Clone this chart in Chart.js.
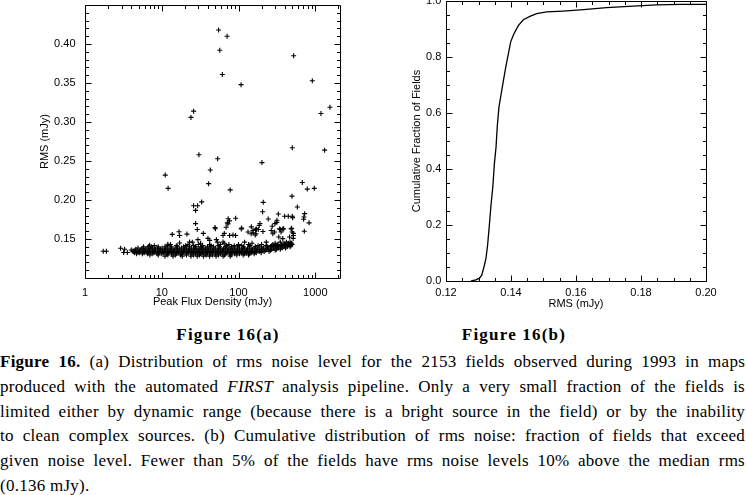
<!DOCTYPE html>
<html>
<head>
<meta charset="utf-8">
<script src="https://cdn.jsdelivr.net/npm/chart.js@4.4.1/dist/chart.umd.min.js"></script>
<style>
  html, body { margin: 0; padding: 0; background: #fff; }
  body { width: 746px; height: 495px; position: relative; overflow: hidden; }
  canvas { position: absolute; top: 0; }
  #left { left: 0; }
  #right { left: 350px; }
  .fig { position: absolute; width: 200px; text-align: center; font: bold 17px "Liberation Serif", serif; line-height: 20px; top: 325px; letter-spacing: 1.2px; }
  #caption { position: absolute; left: 0; top: 350px; width: 745px; font: 17px "Liberation Serif", serif; line-height: 24.8px; letter-spacing: 0.25px; }
  #caption div { text-align: justify; text-align-last: justify; white-space: nowrap; }
  #caption div.last { text-align-last: left; }
</style>
</head>
<body>
<canvas id="left" width="350" height="312"></canvas>
<canvas id="right" width="396" height="312"></canvas>
<div class="fig" style="left:128px">Figure 16(a)</div>
<div class="fig" style="left:414px">Figure 16(b)</div>
<div id="caption">
  <div><b>Figure 16.</b> (a) Distribution of rms noise level for the 2153 fields observed during 1993 in maps</div>
  <div>produced with the automated <i>FIRST</i> analysis pipeline. Only a very small fraction of the fields is</div>
  <div>limited either by dynamic range (because there is a bright source in the field) or by the inability</div>
  <div>to clean complex sources. (b) Cumulative distribution of rms noise: fraction of fields that exceed</div>
  <div>given noise level. Fewer than 5% of the fields have rms noise levels 10% above the median rms</div>
  <div class="last">(0.136 mJy).</div>
</div>
<script>
// Figure 16(a): isolated fields (peak flux in mJy, rms in mJy)
const outFlux = [55, 71, 57, 61.5, 108, 523, 915, 26, 24, 1186, 1553, 30.5, 53.5, 502, 1324,
  11.1, 12.1, 42.9, 40.8, 78, 202, 678, 787, 971, 497, 584, 210, 206, 26, 29.3, 33.1, 27.6, 27.6, 29,
  73.3, 91.8, 76.2, 71.5, 110, 49.4, 49.9, 181, 190, 186, 244, 317, 330, 399, 445, 502, 507,
  727, 712, 705, 830, 720, 208, 171, 275, 299, 351, 388, 493,
  13.7, 16.8, 17.1, 21.3, 518, 515, 84.7, 65.3, 147, 155, 165, 34.8, 40,
  6.75, 2.91, 3.28, 3.19, 3.56, 1.73, 1.90,
  72.8, 69, 108.6, 167, 169, 315, 267, 280, 295, 342, 359, 377, 485, 500, 520, 335, 377, 462,
  62.8, 76.5, 91.6, 133, 146, 154, 170,
  6.95, 12, 17.1, 23, 29.6, 42.1, 51.5, 62.8, 4.0, 4.2];
const outRms = [0.418, 0.410, 0.392, 0.361, 0.348, 0.385, 0.353, 0.314, 0.306, 0.311, 0.319, 0.258, 0.253, 0.267, 0.264,
  0.232, 0.215, 0.2385, 0.221, 0.213, 0.248, 0.2225, 0.214, 0.215, 0.205, 0.191, 0.197, 0.185, 0.1926, 0.1926, 0.1976, 0.1867, 0.1698, 0.1622,
  0.176, 0.1766, 0.1732, 0.1707, 0.164, 0.1648, 0.1631, 0.1622, 0.1698, 0.1673, 0.1757, 0.174, 0.182, 0.1791, 0.1791, 0.1791, 0.1774,
  0.1825, 0.1783, 0.1753, 0.1707, 0.160, 0.1597, 0.1622, 0.1664, 0.1698, 0.1622, 0.1631, 0.1639,
  0.1559, 0.1593, 0.1546, 0.1563, 0.1572, 0.1508, 0.1551, 0.1572, 0.1656, 0.158, 0.1551, 0.1572, 0.1508,
  0.1403, 0.1382, 0.1369, 0.1327, 0.1327, 0.1344, 0.1344,
  0.1694, 0.165, 0.163, 0.1618, 0.1568, 0.1714, 0.161, 0.1568, 0.1589, 0.163, 0.1589, 0.163, 0.163, 0.1589, 0.1546, 0.1525, 0.1505, 0.1525,
  0.1546, 0.1546, 0.1546, 0.1589, 0.1568, 0.161, 0.163,
  0.142, 0.1433, 0.1449, 0.1462, 0.1492, 0.1483, 0.1492, 0.1462, 0.136, 0.1345];

// the dense band of fields near the median rms, read row by row
const bandLevels = [0.128, 0.1295, 0.131, 0.1325, 0.134, 0.1355, 0.137, 0.1385, 0.140, 0.1415, 0.143, 0.1445, 0.146];
const bandFlux = [
  [11, 14, 18.5, 24, 29, 35, 42, 51, 63, 78],
  [7, 9, 12, 15, 17.5, 21, 26, 31, 38, 46, 55, 66, 80, 95, 115, 135],
  [4.7, 5.6, 6.5, 7.5, 8.7, 10, 11.6, 13.4, 15.5, 18, 20.8, 24, 27.8, 32, 37, 43, 50, 58, 67, 77, 89, 103, 120, 138, 160],
  [4.4, 5.1, 5.9, 6.8, 7.9, 9.2, 10.6, 12.3, 14.2, 16.4, 19, 22, 25.5, 29.5, 34, 39.5, 45.5, 53, 61, 71, 82, 95, 110, 127, 147, 170, 197],
  [4.3, 4.9, 5.7, 6.6, 7.6, 8.8, 10.2, 11.8, 13.7, 15.8, 18.3, 21.2, 24.5, 28.3, 32.7, 37.8, 43.7, 50.5, 58.4, 67.5, 78, 90, 104, 121, 140, 162, 187, 216, 250],
  [4.5, 5.2, 6.0, 6.9, 8.0, 9.3, 10.8, 12.5, 14.4, 16.7, 19.3, 22.3, 25.8, 29.8, 34.5, 39.9, 46, 53.3, 61.6, 71.2, 82.3, 95.2, 110, 127, 147, 170, 196, 227, 262, 300],
  [4.6, 5.4, 6.2, 7.2, 8.3, 9.6, 11.1, 12.9, 14.9, 17.2, 19.9, 23, 26.6, 30.8, 35.6, 41.1, 47.5, 55, 63.5, 73.4, 84.9, 98.2, 113.5, 131, 152, 175, 203, 234, 271, 313, 350],
  [4.9, 5.7, 6.6, 7.6, 8.8, 10.1, 11.7, 13.5, 15.6, 18.1, 20.9, 24.2, 28, 32.3, 37.4, 43.2, 50, 57.8, 66.8, 77.2, 89.2, 103, 119, 138, 160, 185, 213, 247, 285, 330, 370, 410],
  [5.8, 7.3, 9.0, 11, 13.3, 16, 19.2, 23, 27.5, 33, 39.5, 47.2, 56.5, 67.6, 81, 97, 116, 139, 166, 199, 238, 262, 290, 320, 355, 390, 430, 470],
  [8, 12, 15.5, 20.5, 26, 34, 44, 55, 70, 88, 110, 140, 180, 230, 270, 300, 330, 365, 400, 440, 480],
  [13, 22, 30, 42, 58, 75, 100, 135, 200, 280, 320, 360, 410, 460, 500],
  [32, 65, 150, 300, 390, 445, 490],
  [25, 53, 120, 230, 350, 420, 470]
];

const fluxTicks = [1, 10, 100, 1000];
const rmsTicks = [0.15, 0.20, 0.25, 0.30, 0.35, 0.40];

// Figure 16(b): cumulative fraction of fields vs rms
const cdfRms = [0.1277, 0.1292, 0.1303, 0.1310, 0.1317, 0.1323, 0.1328, 0.1333, 0.1338, 0.1344, 0.1349, 0.1354,
  0.1358, 0.1363, 0.1369, 0.1376, 0.1384, 0.1392, 0.1399, 0.1409, 0.1423, 0.1438, 0.1458, 0.1479, 0.1510,
  0.1561, 0.1623, 0.1694, 0.1776, 0.1848, 0.1920, 0.2000];
const cdfFrac = [0.000, 0.004, 0.010, 0.021, 0.051, 0.081, 0.128, 0.194, 0.265, 0.336, 0.420, 0.479,
  0.556, 0.622, 0.663, 0.711, 0.765, 0.812, 0.854, 0.883, 0.913, 0.933, 0.945, 0.955, 0.961,
  0.964, 0.969, 0.976, 0.982, 0.986, 0.988, 0.988];

const cdfXTicks = [0.12, 0.14, 0.16, 0.18, 0.20];
const cdfYTicks = [0.0, 0.2, 0.4, 0.6, 0.8, 1.0];

const tickFont = { family: 'Liberation Sans', size: 11 };

// frame with inward ticks on all four sides, like the IDL plots
const frameTicks = {
  id: 'frameTicks',
  afterDraw(chart, args, opts) {
    const { ctx, chartArea: a } = chart;
    const x = chart.scales.x, y = chart.scales.y;
    const L = Math.round(a.left) + 0.5, R = Math.round(a.right) + 0.5;
    const T = Math.round(a.top) + 0.5, B = Math.round(a.bottom) + 0.5;
    ctx.save();
    ctx.strokeStyle = '#000';
    ctx.lineWidth = 1;
    ctx.beginPath();
    ctx.rect(L, T, R - L, B - T);
    const mark = (scale, values, len) => {
      values.forEach(v => {
        const p = Math.round(scale.getPixelForValue(v)) + 0.5;
        if (scale.isHorizontal()) {
          if (p < L - 1 || p > R + 1) return;
          ctx.moveTo(p, B); ctx.lineTo(p, B - len);
          ctx.moveTo(p, T); ctx.lineTo(p, T + len);
        } else {
          if (p < T - 1 || p > B + 1) return;
          ctx.moveTo(L, p); ctx.lineTo(L + len, p);
          ctx.moveTo(R, p); ctx.lineTo(R - len, p);
        }
      });
    };
    mark(x, x.ticks.map(t => t.value), opts.major);
    mark(y, y.ticks.map(t => t.value), opts.major);
    mark(x, opts.xMinor, opts.minor);
    mark(y, opts.yMinor, opts.minor);
    ctx.stroke();
    ctx.restore();
  }
};

function fixedAxis(size, horizontal) {
  return scale => {
    if (horizontal) {
      scale.height = size;
      scale.paddingLeft = 0; scale.paddingRight = 0;
    } else {
      scale.width = size;
      scale.paddingTop = 0; scale.paddingBottom = 0;
    }
  };
}

function steps(from, to, step) {
  const out = [];
  for (let v = from; v <= to + 1e-9; v += step) out.push(+v.toFixed(4));
  return out;
}

// Left chart: scatter
const scatterPoints = outFlux.map((f, i) => ({ x: f, y: outRms[i] }));
bandLevels.forEach((r, i) => {
  bandFlux[i].forEach(f => scatterPoints.push({ x: f, y: r }));
});

const logMinor = [];
[1, 10, 100, 1000].forEach(d => {
  for (let k = 2; k <= 9; k++) logMinor.push(d * k);
});

const noGrid = { display: false, drawTicks: false };

new Chart(document.getElementById('left'), {
  type: 'scatter',
  data: {
    datasets: [{
      data: scatterPoints,
      pointStyle: 'cross',
      pointRadius: 2.5,
      borderWidth: 1.1,
      borderColor: '#000',
      backgroundColor: '#000'
    }]
  },
  options: {
    responsive: false,
    animation: false,
    events: [],
    layout: { padding: { left: 38, top: 1, right: 10, bottom: 0 } },
    plugins: {
      legend: { display: false },
      tooltip: { enabled: false },
      frameTicks: { major: 6, minor: 3.5, xMinor: logMinor, yMinor: steps(0.11, 0.44, 0.01) }
    },
    scales: {
      x: {
        type: 'logarithmic',
        min: 1,
        max: 2100,
        grid: noGrid,
        border: { display: false },
        afterBuildTicks: scale => { scale.ticks = fluxTicks.map(v => ({ value: v })); },
        afterFit: fixedAxis(34, true),
        ticks: { color: '#000', font: tickFont, padding: 8, maxRotation: 0, callback: v => String(v) },
        title: { display: true, text: 'Peak Flux Density (mJy)', color: '#000', font: tickFont, padding: { top: 0, bottom: 3 } }
      },
      y: {
        type: 'linear',
        min: 0.10,
        max: 0.45,
        grid: noGrid,
        border: { display: false },
        afterBuildTicks: scale => { scale.ticks = rmsTicks.map(v => ({ value: v })); },
        afterFit: fixedAxis(47, false),
        ticks: { color: '#000', font: tickFont, padding: 9.5, callback: v => v.toFixed(2) },
        title: { display: true, text: 'RMS (mJy)', color: '#000', font: tickFont, padding: { top: 0, bottom: 0 } }
      }
    }
  },
  plugins: [frameTicks]
});

// Right chart: cumulative distribution
new Chart(document.getElementById('right'), {
  type: 'line',
  data: {
    datasets: [{
      data: cdfRms.map((r, i) => ({ x: r, y: cdfFrac[i] })),
      borderColor: '#000',
      borderWidth: 1.3,
      pointRadius: 0,
      tension: 0,
      fill: false
    }]
  },
  options: {
    responsive: false,
    animation: false,
    events: [],
    layout: { padding: { left: 60, top: 1, right: 40, bottom: 0 } },
    plugins: {
      legend: { display: false },
      tooltip: { enabled: false },
      frameTicks: { major: 6, minor: 3.5, xMinor: steps(0.125, 0.195, 0.005), yMinor: steps(0.05, 0.95, 0.05) }
    },
    scales: {
      x: {
        type: 'linear',
        min: 0.12,
        max: 0.20,
        grid: noGrid,
        border: { display: false },
        afterBuildTicks: scale => { scale.ticks = cdfXTicks.map(v => ({ value: v })); },
        afterFit: fixedAxis(31, true),
        ticks: { color: '#000', font: tickFont, padding: 5, maxRotation: 0, callback: v => v.toFixed(2) },
        title: { display: true, text: 'RMS (mJy)', color: '#000', font: tickFont, padding: { top: 0, bottom: 1.4 } }
      },
      y: {
        type: 'linear',
        min: 0,
        max: 1,
        grid: noGrid,
        border: { display: false },
        afterBuildTicks: scale => { scale.ticks = cdfYTicks.map(v => ({ value: v })); },
        afterFit: fixedAxis(36, false),
        ticks: { color: '#000', font: tickFont, padding: 4.6, callback: v => v.toFixed(1) },
        title: { display: true, text: 'Cumulative Fraction of Fields', color: '#000', font: tickFont, padding: { top: 0, bottom: 0 } }
      }
    }
  },
  plugins: [frameTicks]
});
</script>
</body>
</html>
